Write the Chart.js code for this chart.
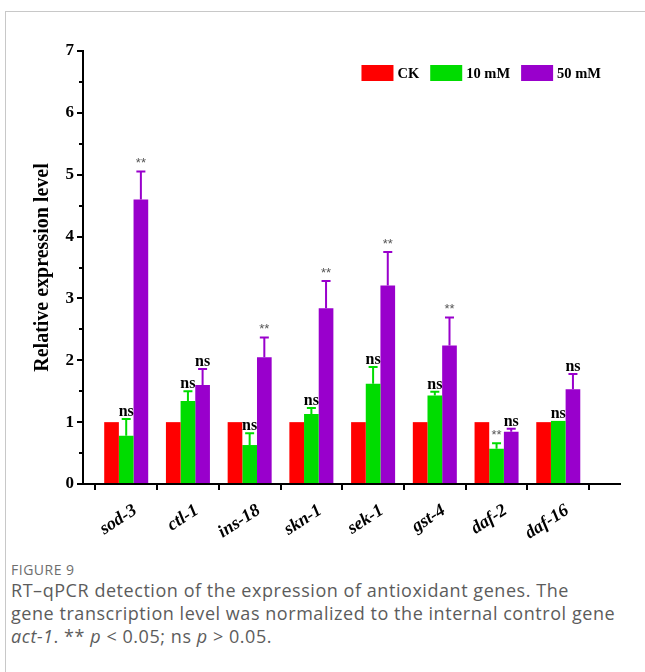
<!DOCTYPE html>
<html><head><meta charset="utf-8">
<script src="https://cdn.jsdelivr.net/npm/chart.js@4.4.0/dist/chart.umd.min.js"></script>
<style>
html,body{margin:0;padding:0;background:#fff;}
body{width:645px;height:672px;position:relative;overflow:hidden;}
#frame{position:absolute;left:5px;top:11px;right:-2px;bottom:-2px;border-left:1px solid #c8c8c8;border-top:1px solid #c8c8c8;}
#wrap{position:absolute;left:0;top:0;width:645px;height:545px;}
#cap{position:absolute;left:11px;top:561px;width:634px;font-family:"Open Sans",sans-serif;color:#5c5c5c;white-space:nowrap;}
#cap .fig{font-size:14px;color:#6e6e6e;line-height:18px;letter-spacing:0.5px;}
#cap .txt{font-size:18px;line-height:23px;letter-spacing:0.55px;}
</style></head>
<body>
<div id="frame"></div>
<div id="wrap"><canvas id="c" width="645" height="545"></canvas></div>
<div id="cap"><div class="fig">FIGURE 9</div>
<div class="txt">RT–qPCR detection of the expression of antioxidant genes. The<br>gene transcription level was normalized to the internal control gene<br><i>act-1</i>. ** <i>p</i> &lt; 0.05; ns <i>p</i> &gt; 0.05.</div></div>
<script>
const genes = ['sod-3','ctl-1','ins-18','skn-1','sek-1','gst-4','daf-2','daf-16'];
const seriesNames = ['CK','10 mM','50 mM'];
const ck = [1,1,1,1,1,1,1,1];
const mm10 = [0.78,1.34,0.63,1.13,1.62,1.43,0.57,1.02];
const mm10Err = [0.27,0.16,0.19,0.10,0.27,0.06,0.09,0.00];
const mm50 = [4.60,1.60,2.05,2.84,3.21,2.24,0.845,1.53];
const mm50Err = [0.45,0.26,0.32,0.44,0.54,0.45,0.05,0.25];
const sig10 = ['ns','ns','ns','ns','ns','ns','**','ns'];
const sig50 = ['**','ns','**','**','**','**','ns','ns'];
const yTicks = [0,1,2,3,4,5,6,7];
const xTickPositions = [1,2,3,4,5,6,7,8,9];

const toPts = arr => arr.map((v,i)=>({x:i+1,y:v}));
const SERIF = '"Liberation Serif","Times New Roman",serif';

const extras = {
  id:'extras',
  afterDatasetsDraw(chart){
    const ctx = chart.ctx, ys = chart.scales.y;
    chart.data.datasets.forEach((ds,di)=>{
      const meta = chart.getDatasetMeta(di);
      meta.data.forEach((bar,i)=>{
        const v = ds.data[i].y;
        const err = ds.errors ? ds.errors[i] : 0;
        const yTop = ys.getPixelForValue(v+err);
        const yBar = ys.getPixelForValue(v);
        if (err > 0){
          ctx.save();
          ctx.strokeStyle = ds.backgroundColor; ctx.lineWidth = 2;
          ctx.beginPath();
          ctx.moveTo(bar.x, yBar); ctx.lineTo(bar.x, yTop);
          ctx.moveTo(bar.x-4.5, yTop); ctx.lineTo(bar.x+4.5, yTop);
          ctx.stroke(); ctx.restore();
        }
        if (ds.sig){
          const s = ds.sig[i];
          ctx.save();
          ctx.textAlign='center';
          if (s==='ns'){
            ctx.font = 'bold 16px '+SERIF; ctx.fillStyle='#000';
            ctx.textBaseline='alphabetic';
            ctx.fillText(s, bar.x, yTop-3);
          } else {
            ctx.font = '13px "Liberation Sans",Arial,sans-serif'; ctx.fillStyle='#555';
            ctx.textBaseline='middle';
            ctx.fillText(s, bar.x, yTop-8);
          }
          ctx.restore();
        }
      });
    });
    // minor ticks on y axis
    ctx.save(); ctx.strokeStyle='#000'; ctx.lineWidth=2;
    const x0 = chart.chartArea.left;
    for (let k=0;k<yTicks.length-1;k++){
      const py = Math.round(ys.getPixelForValue(yTicks[k]+0.5));
      ctx.beginPath(); ctx.moveTo(x0,py); ctx.lineTo(x0-4,py); ctx.stroke();
    }
    ctx.restore();
    // legend (inside chart area, top right)
    ctx.save();
    ctx.font = 'bold 14.5px '+SERIF;
    ctx.textBaseline='middle'; ctx.textAlign='left'; ctx.fillStyle='#000';
    const bw=32,bh=16,gap=4,sp=11;
    const items = chart.data.datasets.map(d=>({t:d.label,c:d.backgroundColor,w:ctx.measureText(d.label).width}));
    const total = items.reduce((a,it)=>a+bw+gap+it.w,0)+sp*(items.length-1);
    let lx = chart.chartArea.right-19-total;
    const ly = chart.chartArea.top+14;
    items.forEach(it=>{
      ctx.fillStyle=it.c; ctx.fillRect(lx,ly,bw,bh);
      ctx.fillStyle='#000'; ctx.fillText(it.t,lx+bw+gap,ly+bh/2+1);
      lx += bw+gap+it.w+sp;
    });
    ctx.restore();
  }
};

new Chart(document.getElementById('c'),{
  type:'bar',
  data:{datasets:[
    {label:seriesNames[0],data:toPts(ck),backgroundColor:'#ff0000',borderWidth:0},
    {label:seriesNames[1],data:toPts(mm10),errors:mm10Err,sig:sig10,backgroundColor:'#00dc00',borderWidth:0},
    {label:seriesNames[2],data:toPts(mm50),errors:mm50Err,sig:sig50,backgroundColor:'#9900cc',borderWidth:0}
  ]},
  options:{
    responsive:false,animation:false,
    devicePixelRatio:1,
    datasets:{bar:{categoryPercentage:0.713,barPercentage:1.0}},
    layout:{padding:{left:31,top:51,right:25,bottom:0}},
    plugins:{
      tooltip:{enabled:false},
      legend:{display:false}
    },
    scales:{
      x:{type:'linear',min:0.3,max:9,offset:false,
        afterBuildTicks(s){ s.ticks = xTickPositions.map(v=>({value:v})); },
        afterFit(s){ s.height = 61; },
        grid:{drawOnChartArea:false,drawTicks:true,tickLength:6,color:'#000',lineWidth:2},
        border:{display:true,color:'#000',width:2},
        ticks:{autoSkip:false,minRotation:33,maxRotation:33,padding:10,labelOffset:9,color:'#000',
          font:{family:SERIF,size:18,style:'italic',weight:'bold'},
          callback:v=>genes[v-1]||''}
      },
      y:{min:0,max:7,
        afterBuildTicks(s){ s.ticks = yTicks.map(v=>({value:v})); },
        afterFit(s){ s.width = 52; },
        grid:{drawOnChartArea:false,drawTicks:true,tickLength:6,color:'#000',lineWidth:2},
        border:{display:true,color:'#000',width:2},
        ticks:{padding:3,color:'#000',font:{family:SERIF,size:17,weight:'bold'}},
        title:{display:true,text:'Relative expression level',color:'#000',padding:0,
          font:{family:SERIF,size:20,weight:'bold'}}
      }
    }
  },
  plugins:[extras]
});
</script>
</body></html>
